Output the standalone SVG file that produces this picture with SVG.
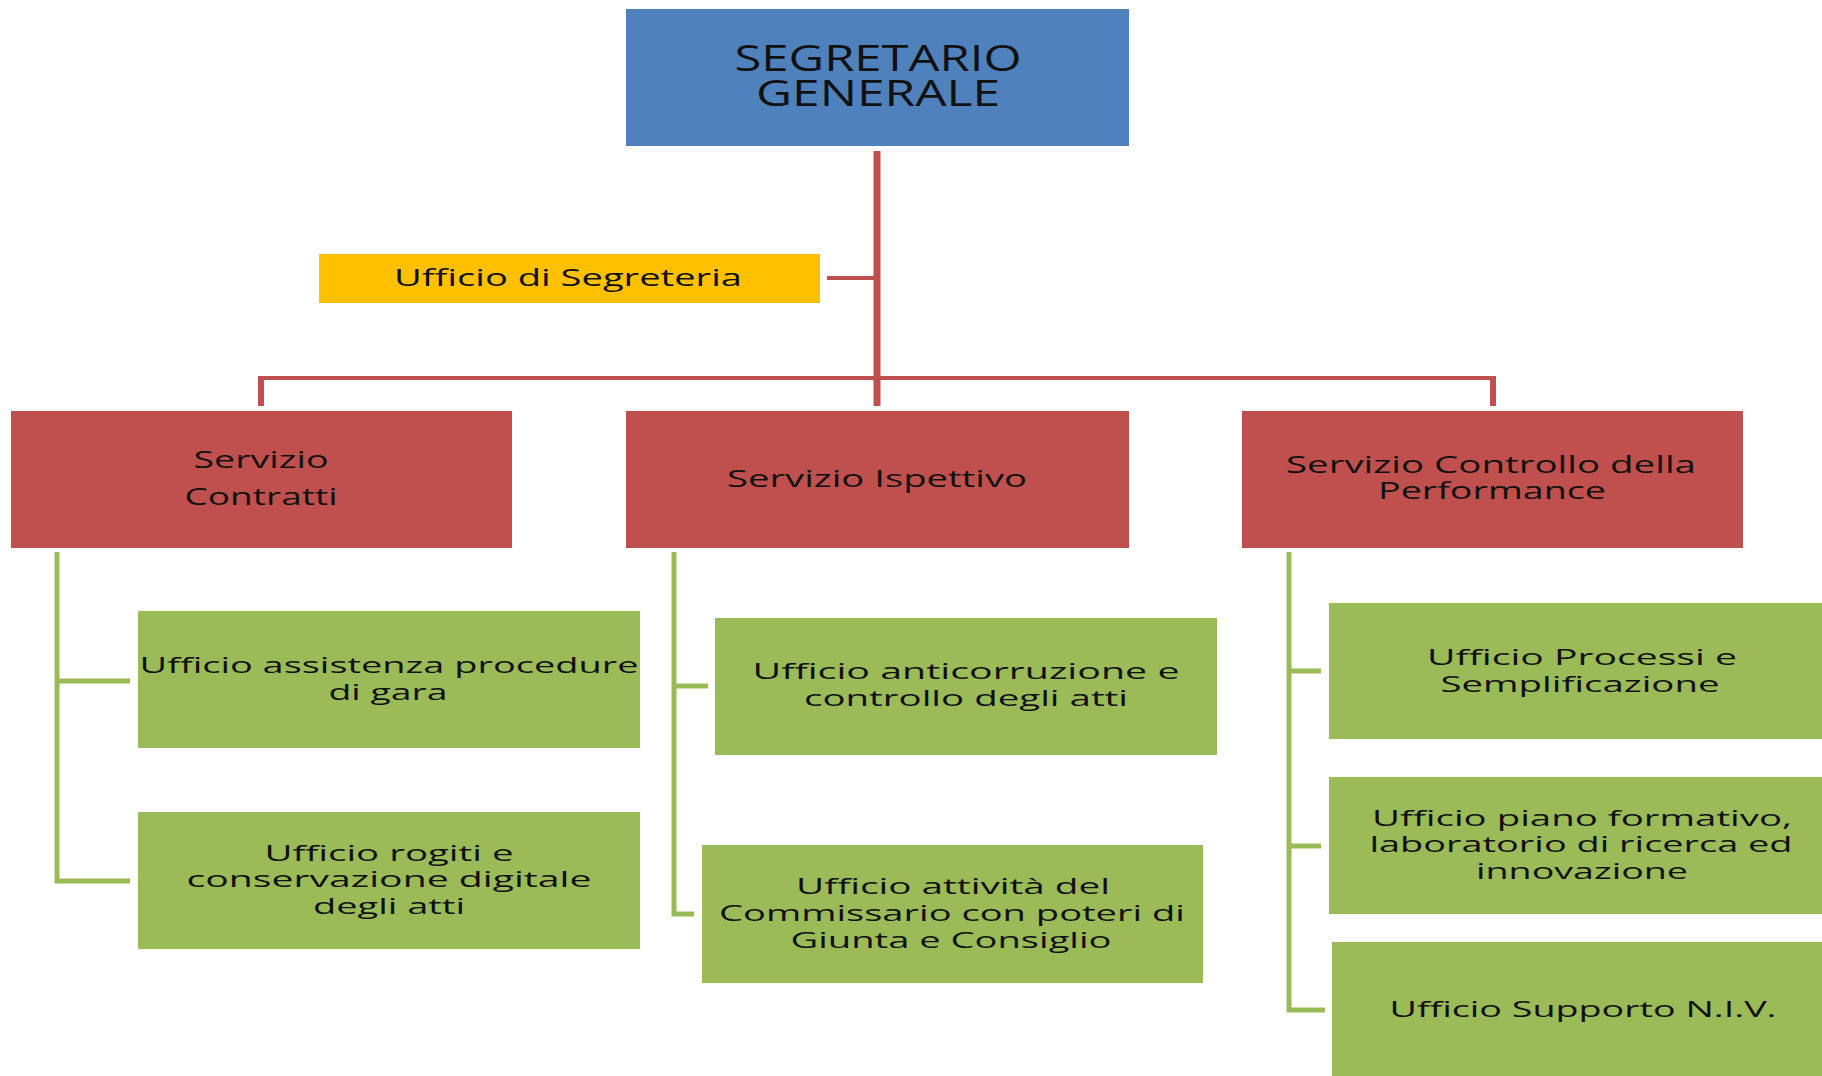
<svg xmlns="http://www.w3.org/2000/svg" width="1822" height="1076" viewBox="0 0 1822 1076">
<style>
.t{font-family:"Open Sans","Liberation Sans",sans-serif;fill:#111;text-anchor:middle}
.blue{fill:#4F81BD}
.red{fill:#C0504D}
.green{fill:#9BBB59}
.yellow{fill:#FFC000}
.rl{stroke:#C0504D;fill:none}
.gl{stroke:#9BBB59;fill:none}
</style>
<rect width="1822" height="1076" fill="#fff"/>
<g id="connectors">
<line class="rl" x1="877" y1="151" x2="877" y2="406" stroke-width="7"/>
<line class="rl" x1="827" y1="278" x2="877" y2="278" stroke-width="4"/>
<line class="rl" x1="259" y1="378" x2="1495" y2="378" stroke-width="4"/>
<line class="rl" x1="261" y1="376" x2="261" y2="406" stroke-width="6"/>
<line class="rl" x1="1493" y1="376" x2="1493" y2="406" stroke-width="6"/>
<path class="gl" d="M57 552 V881 H130 M57 681 H130" stroke-width="5"/>
<path class="gl" d="M674 552 V914 H694 M674 686 H708" stroke-width="5"/>
<path class="gl" d="M1289 552 V1010 H1325 M1289 671 H1321 M1289 846 H1321" stroke-width="5"/>
</g>
<g id="segretario">
<rect class="blue" x="626" y="9" width="503" height="137"/>
<text class="t" font-size="36" x="878" y="71" textLength="287" lengthAdjust="spacingAndGlyphs">SEGRETARIO</text>
<text class="t" font-size="36" x="878" y="106" textLength="244" lengthAdjust="spacingAndGlyphs">GENERALE</text>
</g>
<g id="segreteria">
<rect class="yellow" x="319" y="254" width="501" height="49"/>
<text class="t" font-size="24" x="568" y="286" textLength="348" lengthAdjust="spacingAndGlyphs">Ufficio di Segreteria</text>
</g>
<g id="contratti">
<rect class="red" x="11" y="411" width="501" height="137"/>
<text class="t" font-size="23" x="261" y="468" textLength="135" lengthAdjust="spacingAndGlyphs">Servizio</text>
<text class="t" font-size="23" x="261" y="505" textLength="153" lengthAdjust="spacingAndGlyphs">Contratti</text>
</g>
<g id="ispettivo">
<rect class="red" x="626" y="411" width="503" height="137"/>
<text class="t" font-size="23" x="877" y="487" textLength="300" lengthAdjust="spacingAndGlyphs">Servizio Ispettivo</text>
</g>
<g id="performance">
<rect class="red" x="1242" y="411" width="501" height="137"/>
<text class="t" font-size="23" x="1491" y="473" textLength="410" lengthAdjust="spacingAndGlyphs">Servizio Controllo della</text>
<text class="t" font-size="23" x="1492" y="499" textLength="228" lengthAdjust="spacingAndGlyphs">Performance</text>
</g>
<g id="gara">
<rect class="green" x="138" y="611" width="502" height="137"/>
<text class="t" font-size="22" x="389" y="673" textLength="499" lengthAdjust="spacingAndGlyphs">Ufficio assistenza procedure</text>
<text class="t" font-size="22" x="388" y="700" textLength="119" lengthAdjust="spacingAndGlyphs">di gara</text>
</g>
<g id="rogiti">
<rect class="green" x="138" y="812" width="502" height="137"/>
<text class="t" font-size="22" x="389" y="861" textLength="249" lengthAdjust="spacingAndGlyphs">Ufficio rogiti e</text>
<text class="t" font-size="22" x="389" y="887" textLength="405" lengthAdjust="spacingAndGlyphs">conservazione  digitale</text>
<text class="t" font-size="22" x="389" y="914" textLength="152" lengthAdjust="spacingAndGlyphs">degli atti</text>
</g>
<g id="anticorruzione">
<rect class="green" x="715" y="618" width="502" height="137"/>
<text class="t" font-size="22" x="966" y="679" textLength="427" lengthAdjust="spacingAndGlyphs">Ufficio  anticorruzione e</text>
<text class="t" font-size="22" x="966" y="706" textLength="324" lengthAdjust="spacingAndGlyphs">controllo degli atti</text>
</g>
<g id="commissario">
<rect class="green" x="702" y="845" width="501" height="138"/>
<text class="t" font-size="22" x="953" y="894" textLength="314" lengthAdjust="spacingAndGlyphs">Ufficio attività del</text>
<text class="t" font-size="22" x="952" y="921" textLength="466" lengthAdjust="spacingAndGlyphs">Commissario con poteri di</text>
<text class="t" font-size="22" x="951" y="948" textLength="321" lengthAdjust="spacingAndGlyphs">Giunta e Consiglio</text>
</g>
<g id="processi">
<rect class="green" x="1329" y="603" width="493" height="136"/>
<text class="t" font-size="22" x="1582" y="665" textLength="310" lengthAdjust="spacingAndGlyphs">Ufficio  Processi e</text>
<text class="t" font-size="22" x="1580" y="692" textLength="279" lengthAdjust="spacingAndGlyphs">Semplificazione</text>
</g>
<g id="formativo">
<rect class="green" x="1329" y="777" width="493" height="137"/>
<text class="t" font-size="22" x="1582" y="826" textLength="420" lengthAdjust="spacingAndGlyphs">Ufficio piano formativo,</text>
<text class="t" font-size="22" x="1581" y="852" textLength="423" lengthAdjust="spacingAndGlyphs">laboratorio di ricerca ed</text>
<text class="t" font-size="22" x="1582" y="879" textLength="212" lengthAdjust="spacingAndGlyphs">innovazione</text>
</g>
<g id="niv">
<rect class="green" x="1332" y="942" width="490" height="134"/>
<text class="t" font-size="22" x="1583" y="1017" textLength="387" lengthAdjust="spacingAndGlyphs">Ufficio Supporto  N.I.V.</text>
</g>
</svg>
